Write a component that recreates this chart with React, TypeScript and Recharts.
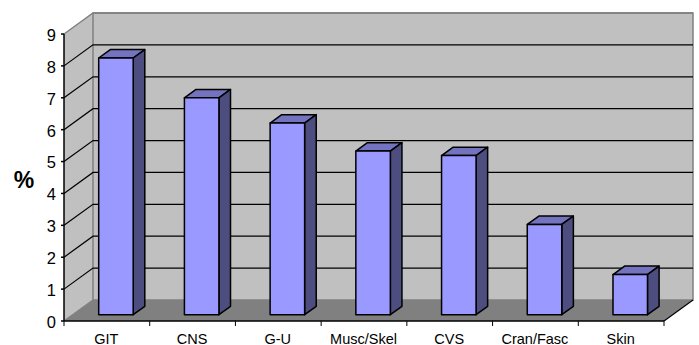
import { BarChart, Bar, XAxis, YAxis, CartesianGrid } from 'recharts';

const categories = ['GIT', 'CNS', 'G-U', 'Musc/Skel', 'CVS', 'Cran/Fasc', 'Skin'];
const percentages = [8.05, 6.8, 6.01, 5.13, 4.99, 2.83, 1.26];
const yTicks = [0, 1, 2, 3, 4, 5, 6, 7, 8, 9];

const chartData = categories.map((name, i) => ({ name, value: percentages[i] }));

// plot box = front plane of the fake 3D Excel chart
const LEFT = 64;
const RIGHT = 664;
const TOP = 34;
const BOTTOM = 321;
const DEPTH_X = 29;
const DEPTH_Y = 21;
const BAND = (RIGHT - LEFT) / categories.length;
const FONT = '"Liberation Sans", Arial, sans-serif';

function Walls() {
  return (
    <g>
      <polygon
        points={`${LEFT},${TOP} ${LEFT + DEPTH_X},${TOP - DEPTH_Y} ${LEFT + DEPTH_X},${BOTTOM - DEPTH_Y} ${LEFT},${BOTTOM}`}
        fill="#C0C0C0"
      />
      <rect
        x={LEFT + DEPTH_X}
        y={TOP - DEPTH_Y}
        width={RIGHT - LEFT}
        height={BOTTOM - TOP}
        fill="#C0C0C0"
        stroke="#808080"
        strokeWidth={1.5}
      />
      <polygon
        points={`${LEFT},${BOTTOM} ${LEFT + DEPTH_X},${BOTTOM - DEPTH_Y} ${RIGHT + DEPTH_X},${BOTTOM - DEPTH_Y} ${RIGHT},${BOTTOM}`}
        fill="#808080"
      />
      <line x1={LEFT} y1={BOTTOM} x2={LEFT + DEPTH_X} y2={BOTTOM - DEPTH_Y} stroke="#808080" strokeWidth={1.5} />
      <line x1={RIGHT} y1={BOTTOM} x2={RIGHT + DEPTH_X} y2={BOTTOM - DEPTH_Y} stroke="#000" strokeWidth={1.2} />
    </g>
  );
}

// one gridline: up the side wall, then across the back wall.
// the grid is the lowest layer, so the walls get drawn with its first line
function WallGridLine({ x1, x2, y1, index }: any) {
  const isTop = y1 <= TOP + 1;
  const isFloor = y1 >= BOTTOM - 1;
  return (
    <g>
      {index === 0 && <Walls />}
      {!isFloor && (
        <polyline
          points={`${x1},${y1} ${x1 + DEPTH_X},${y1 - DEPTH_Y} ${x2 + DEPTH_X},${y1 - DEPTH_Y}`}
          fill="none"
          stroke={isTop ? '#808080' : '#000'}
          strokeWidth={isTop ? 1.5 : 1.2}
        />
      )}
    </g>
  );
}

function Bar3D({ x, y, width, height }: any) {
  // bars stand in the middle of the floor depth
  const fx = x + DEPTH_X * 0.3;
  const fy = y - DEPTH_Y * 0.3;
  const dx = DEPTH_X * 0.4;
  const dy = DEPTH_Y * 0.4;
  const r = fx + width;
  const b = fy + height;
  return (
    <g stroke="#000" strokeWidth={1.5} strokeLinejoin="round">
      <polygon points={`${fx},${fy} ${fx + dx},${fy - dy} ${r + dx},${fy - dy} ${r},${fy}`} fill="#7373BF" />
      <polygon points={`${r},${fy} ${r + dx},${fy - dy} ${r + dx},${b - dy} ${r},${b}`} fill="#4D4D80" />
      <rect x={fx} y={fy} width={width} height={height} fill="#9999FF" />
    </g>
  );
}

function CategoryTick({ x, payload, index }: any) {
  return (
    <g>
      <line x1={x + BAND / 2} x2={x + BAND / 2} y1={BOTTOM} y2={BOTTOM + 5} stroke="#000" />
      {index === 0 && <line x1={x - BAND / 2} x2={x - BAND / 2} y1={BOTTOM} y2={BOTTOM + 5} stroke="#000" />}
      <text x={x - 0.5} y={343.5} textAnchor="middle" fontFamily={FONT} fontSize={14.5} fill="#000">
        {payload.value}
      </text>
    </g>
  );
}

export default function App() {
  return (
    <div style={{ position: 'absolute', left: 0, top: 0, width: 699, height: 345, background: '#fff' }}>
      <BarChart
        width={699}
        height={345}
        data={chartData}
        barSize={34.5}
        margin={{ top: TOP, right: 699 - RIGHT, bottom: 0, left: 0 }}
      >
        <CartesianGrid vertical={false} horizontal={(props: any) => <WallGridLine {...props} />} />
        <XAxis
          dataKey="name"
          height={345 - BOTTOM}
          axisLine={{ stroke: '#000', strokeWidth: 1.5 }}
          tickLine={false}
          interval={0}
          tick={(props: any) => <CategoryTick {...props} />}
        />
        <YAxis
          domain={[0, 9]}
          ticks={yTicks}
          interval={0}
          width={LEFT}
          axisLine={{ stroke: '#000', strokeWidth: 1.5 }}
          tickLine={{ stroke: '#000', strokeWidth: 1.5 }}
          tickSize={3}
          tickMargin={5}
          tick={{ fontSize: 16.5, fontFamily: FONT, fill: '#000', dy: 1 }}
        />
        <Bar dataKey="value" isAnimationActive={false} shape={(props: any) => <Bar3D {...props} />} />
        <text x={24} y={187.5} textAnchor="middle" fontFamily={FONT} fontSize={23} fontWeight="bold" fill="#000">
          %
        </text>
      </BarChart>
    </div>
  );
}
